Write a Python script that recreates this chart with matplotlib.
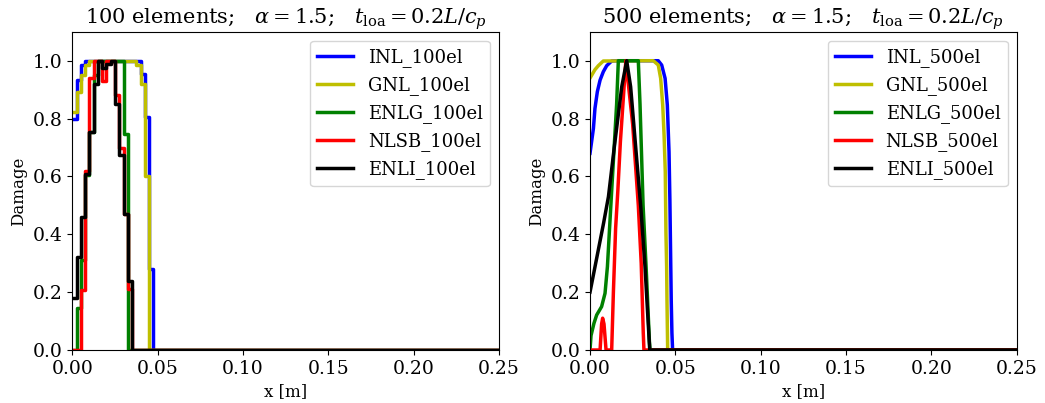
import numpy as np
import matplotlib
matplotlib.use("Agg")
import matplotlib.pyplot as plt

plt.rcParams['font.family'] = ['DejaVu Serif']
plt.rcParams['mathtext.fontset'] = 'dejavuserif'

# ---------------- data: 100 elements (per-element damage, h = L/100) ----------------
n_el_100 = 100
L = 0.25
inl_100 = [0.80, 0.935, 0.986, 1, 1, 1, 1, 1, 1, 1, 1, 1, 1, 1, 1, 1, 0.955, 0.806, 0.28]
gnl_100 = [0.823, 0.893, 0.95, 0.986, 1, 1, 1, 1, 1, 1, 1, 1, 1, 1, 1, 0.985, 0.92, 0.6]
enlg_100 = [0.0, 0.145, 0.31, 0.604, 0.755, 0.95, 1, 1, 1, 1, 1, 1, 0.748]
nlsb_100 = [0.0, 0.0, 0.207, 0.62, 0.94, 1, 1, 0.93, 1, 1, 0.88, 0.70, 0.47, 0.21]
enli_100 = [0.18, 0.32, 0.46, 0.61, 0.754, 0.92, 1.0, 0.975, 0.99, 1.0, 0.852, 0.673, 0.47, 0.24]

# ---------------- data: 500 elements (sampled curve points) ----------------
inl_500_x = [0.0, 0.002, 0.0029, 0.0043, 0.0059, 0.0078, 0.0098, 0.0127, 0.0156, 0.040, 0.042, 0.044,
             0.0453, 0.0463, 0.0468, 0.0473, 0.0476, 0.0480, 0.0484, 0.25]
inl_500_y = [0.68, 0.766, 0.835, 0.893, 0.933, 0.962, 0.983, 0.999, 1.0, 1.0, 0.985, 0.939,
             0.847, 0.685, 0.52, 0.30, 0.17, 0.058, 0.0, 0.0]
gnl_500_x = [0.0, 0.0029, 0.0049, 0.0078, 0.0371, 0.040, 0.0414, 0.0426, 0.0434, 0.0441, 0.0445,
             0.0449, 0.0451, 0.0455, 0.25]
gnl_500_y = [0.94, 0.969, 0.983, 0.999, 1.0, 0.985, 0.939, 0.847, 0.743, 0.616, 0.404,
             0.288, 0.173, 0.0, 0.0]
enlg_500_x = [0.0, 0.0006, 0.0023, 0.0039, 0.0068, 0.0088, 0.0102, 0.0113, 0.0125, 0.0140, 0.0156,
              0.0166, 0.0283, 0.0293, 0.0311, 0.0330, 0.0348, 0.0352, 0.25]
enlg_500_y = [0.0, 0.05, 0.092, 0.121, 0.15, 0.196, 0.288, 0.404, 0.53, 0.685, 0.85,
              1.0, 1.0, 0.85, 0.50, 0.27, 0.03, 0.0, 0.0]
nlsb_500_x = [0.0, 0.0059, 0.0068, 0.0074, 0.0082, 0.0094, 0.0127, 0.0137, 0.0150, 0.0163, 0.0178,
              0.0210, 0.0250, 0.0283, 0.0300, 0.0312, 0.0316, 0.25]
nlsb_500_y = [0.0, 0.0, 0.09, 0.11, 0.09, 0.0, 0.0, 0.2, 0.42, 0.55, 0.72,
              1.0, 0.78, 0.50, 0.30, 0.06, 0.0, 0.0]
enli_500_x = [0.0, 0.004, 0.008, 0.0108, 0.0140, 0.0186, 0.0215, 0.0238, 0.0270, 0.0298, 0.0322,
              0.0350, 0.25]
enli_500_y = [0.2, 0.32, 0.44, 0.53, 0.69, 0.91, 1.0, 0.91, 0.685, 0.49, 0.29,
              0.0, 0.0]

labels = ['INL', 'GNL', 'ENLG', 'NLSB', 'ENLI']
colors = ['b', 'y', 'g', 'r', 'k']

x_ticks = [0.00, 0.05, 0.10, 0.15, 0.20, 0.25]
y_ticks = [0.0, 0.2, 0.4, 0.6, 0.8, 1.0]

fig = plt.figure(figsize=(10.45, 4.03), dpi=100)
ax1 = fig.add_axes([0.0692, 0.1315, 0.4083, 0.7896])
ax2 = fig.add_axes([0.5646, 0.1315, 0.4083, 0.7896])

# left panel: step curves on the element mesh
h = L / n_el_100
edges = np.arange(n_el_100 + 1) * h
for vals, lab, c in zip([inl_100, gnl_100, enlg_100, nlsb_100, enli_100], labels, colors):
    full = list(vals) + [0.0] * (n_el_100 - len(vals))
    full = np.array(full + [full[-1]])
    ax1.plot(edges, full, drawstyle='steps-post', color=c, lw=2.5, label=lab + '_100el')

# right panel
for xs, ys, lab, c in zip([inl_500_x, gnl_500_x, enlg_500_x, nlsb_500_x, enli_500_x],
                          [inl_500_y, gnl_500_y, enlg_500_y, nlsb_500_y, enli_500_y], labels, colors):
    ax2.plot(xs, ys, color=c, lw=2.5, label=lab + '_500el')

for ax, ne in [(ax1, 100), (ax2, 500)]:
    ax.set_xlim(0, 0.25)
    ax.set_ylim(0, 1.1)
    ax.set_xticks(x_ticks)
    ax.set_yticks(y_ticks)
    ax.tick_params(labelsize=13.5)
    ax.set_xlabel('x [m]', fontsize=12)
    ax.set_ylabel('Damage', fontsize=12)
    ax.set_title(r'%d elements;   $\alpha = 1.5$;   $t_{\rm loa} = 0.2L/c_p$' % ne, fontsize=15)
    ax.legend(loc='upper right', fontsize=13)

fig.savefig('out.png', dpi=100)
